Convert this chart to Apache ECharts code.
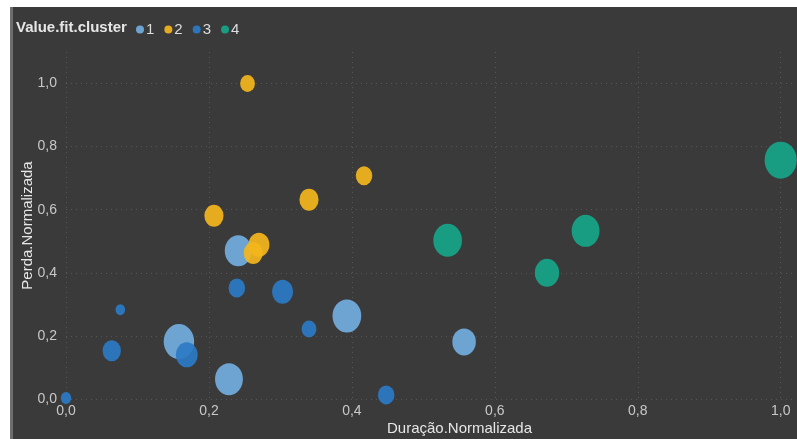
<!DOCTYPE html>
<html>
<head>
<meta charset="utf-8">
<title>Value.fit.cluster</title>
<script src="https://cdn.jsdelivr.net/npm/echarts@6/dist/echarts.min.js"></script>
<style>
  html, body { margin: 0; padding: 0; background: #ffffff; }
  #edge { position: absolute; left: 10px; top: 7px; width: 3px; height: 432px; background: #6e6e6e; }
  #main { position: absolute; left: 13px; top: 7px; width: 784px; height: 432px; }
</style>
</head>
<body>
<div id="edge"></div>
<div id="main"></div>
<script>
// cada ponto: [Duração.Normalizada, Perda.Normalizada, tamanho da bolha]
var cluster1 = [
    [0.158, 0.182, 35], [0.228, 0.063, 32], [0.241, 0.470, 31],
    [0.393, 0.263, 33], [0.557, 0.181, 27]
];
var cluster2 = [
    [0.254, 1.000, 17], [0.207, 0.581, 22], [0.270, 0.489, 24],
    [0.262, 0.463, 22], [0.340, 0.632, 22], [0.417, 0.708, 19]
];
var cluster3 = [
    [0.000, 0.003, 12], [0.076, 0.283, 11], [0.064, 0.153, 21],
    [0.169, 0.140, 25], [0.239, 0.352, 19], [0.303, 0.340, 24],
    [0.340, 0.222, 17], [0.448, 0.013, 19]
];
var cluster4 = [
    [0.534, 0.503, 33], [0.673, 0.400, 28], [0.727, 0.533, 32],
    [1.000, 0.757, 37]
];
var clusterNames = ["1", "2", "3", "4"];
var clusterColors = ["#72aee0", "#f3b61c", "#2d7bc6", "#16a68a"];
var clusterData = [cluster1, cluster2, cluster3, cluster4];

var fontFam = "'Liberation Sans', Arial, sans-serif";

function fmt(v) {
    return v.toFixed(1).replace(".", ",");
}

var series = [];
for (var i = 0; i < clusterData.length; i++) {
    series.push({
        name: clusterNames[i],
        type: "scatter",
        data: clusterData[i],
        clip: true,
        symbolSize: function (d) { return [d[2] * 0.87, d[2]]; },
        itemStyle: { color: clusterColors[i], opacity: 0.92 }
    });
}

var gridLine = { color: "#565656", type: [1, 4], width: 1 };

var option = {
    backgroundColor: "#3a3a3a",
    textStyle: { fontFamily: fontFam },
    animation: false,
    graphic: [{
        type: "text",
        left: 3,
        top: 13,
        style: {
            text: "Value.fit.cluster",
            fill: "#e6e6e6",
            font: "bold 15px " + fontFam
        }
    }],
    legend: {
        left: 118,
        top: 10,
        icon: "circle",
        itemWidth: 8,
        itemHeight: 8,
        itemGap: 10,
        textStyle: { color: "#dddddd", fontSize: 15, padding: [0, 0, 0, -3] },
        data: clusterNames
    },
    grid: { left: 53, right: 2, top: 45, bottom: 40, outerBoundsMode: "none", containLabel: false },
    xAxis: {
        type: "value",
        min: 0, max: 1.02, interval: 0.2,
        name: "Duração.Normalizada",
        nameLocation: "middle",
        nameGap: 22,
        nameMoveOverlap: false,
        nameTextStyle: { color: "#e6e6e6", fontSize: 15, padding: [0, 0, 0, 58] },
        axisLine: { show: false },
        axisTick: { show: false },
        axisLabel: { color: "#c8c8c8", fontSize: 14, margin: 5, showMaxLabel: false, formatter: fmt },
        splitLine: { showMaxLine: false, lineStyle: gridLine }
    },
    yAxis: {
        type: "value",
        min: 0, max: 1.1, interval: 0.2,
        name: "Perda.Normalizada",
        nameLocation: "middle",
        nameGap: 31,
        nameMoveOverlap: false,
        nameTextStyle: { color: "#e6e6e6", fontSize: 15 },
        axisLine: { show: false },
        axisTick: { show: false },
        axisLabel: { color: "#c8c8c8", fontSize: 14, margin: 9, showMaxLabel: false, formatter: fmt },
        splitLine: { showMaxLine: false, lineStyle: gridLine }
    },
    series: series
};

var myChart = echarts.init(document.getElementById("main"));
myChart.setOption(option);
</script>
</body>
</html>
